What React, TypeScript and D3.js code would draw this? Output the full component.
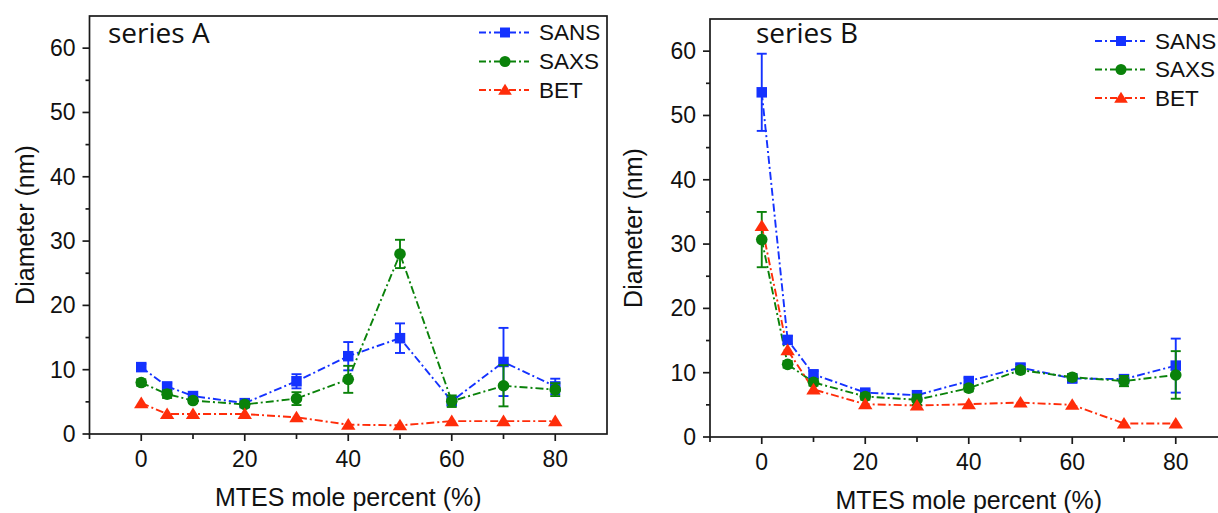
import React from 'react';
import * as d3 from 'd3';

// ---- data ----
const molePercent = [0, 5, 10, 20, 30, 40, 50, 60, 70, 80];

const sansA = [10.4, 7.4, 5.9, 4.8, 8.2, 12.1, 14.9, 5.1, 11.2, 7.4];
const sansAErr = [0.5, 0.5, 0.4, 0.3, 1.1, 2.2, 2.3, 0.6, 5.3, 1.2];
const saxsA = [8.0, 6.2, 5.2, 4.6, 5.5, 8.5, 28.0, 5.1, 7.5, 6.9];
const saxsAErr = [0.5, 0.6, 0.4, 0.4, 1.0, 2.1, 2.2, 0.9, 3.2, 1.0];
const betA = [4.8, 3.1, 3.1, 3.1, 2.6, 1.45, 1.35, 2.0, 2.0, 2.0];

const sansB = [53.6, 15.1, 9.75, 6.9, 6.5, 8.7, 10.8, 9.1, 9.0, 11.1];
const sansBErr = [6.0, 0.6, 0.5, 0.4, 0.4, 0.5, 0.5, 0.6, 0.5, 4.2];
const saxsB = [30.7, 11.3, 8.5, 6.3, 5.8, 7.6, 10.4, 9.3, 8.7, 9.65];
const saxsBErr = [4.3, 0.5, 0.5, 0.5, 0.8, 0.5, 0.5, 0.5, 0.8, 3.7];
const betB = [32.8, 13.5, 7.4, 5.1, 4.9, 5.1, 5.35, 5.0, 2.1, 2.1];

const yMajorTicks = [0, 10, 20, 30, 40, 50, 60];
const yMinorTicks = [5, 15, 25, 35, 45, 55];
const xMajorTicks = [0, 20, 40, 60, 80];
const xMinorTicks = [10, 30, 50, 70];
const seriesNames = ['SANS', 'SAXS', 'BET'];
const panelTitles = ['series A', 'series B'];
const xTitle = 'MTES mole percent (%)';
const yTitle = 'Diameter (nm)';

// ---- styles ----
const COLORS = ['#1432ff', '#0a820a', '#ff2d0a'];
const MARKERS = ['square', 'circle', 'triangle'];
const DASH = '8,3,2,3';
const FONT = "'Liberation Sans', Arial, sans-serif";
const TITLE_FONT = "'Open Sans', 'Noto Sans', sans-serif";

type Series = { values: number[]; errors?: number[] };

function Marker({ kind, x, y, color, s = 1 }: { kind: string; x: number; y: number; color: string; s?: number }) {
  if (kind === 'square') {
    const a = 10.5 * s;
    return <rect x={x - a / 2} y={y - a / 2} width={a} height={a} fill={color} />;
  }
  if (kind === 'circle') {
    return <circle cx={x} cy={y} r={5.8 * s} fill={color} />;
  }
  const w = 7.2 * s;
  const hTop = 6.6 * s;
  const hBot = 5 * s;
  return <path d={`M${x},${y - hTop}L${x + w},${y + hBot}L${x - w},${y + hBot}Z`} fill={color} />;
}

function Panel({
  left, right, top, bottom, series, title, titleX, titleY, legendX, legendRows, yTitleX,
}: {
  left: number; right: number; top: number; bottom: number; series: Series[]; title: string;
  titleX: number; titleY: number; legendX: number; legendRows: number[]; yTitleX: number;
}) {
  const x = d3.scaleLinear().domain([-10, 90]).range([left, right]);
  const y = d3.scaleLinear().domain([0, 65]).range([bottom, top]);
  const line = d3.line<number>().x((_, i) => x(molePercent[i])).y((v) => y(v));
  const cx = (left + right) / 2;
  const cy = (top + bottom) / 2;

  return (
    <g>
      {/* frame */}
      <rect x={left} y={top} width={right - left} height={bottom - top} fill="none" stroke="#1a1a1a" strokeWidth={1.7} />
      {/* y ticks */}
      {yMajorTicks.map((t) => (
        <g key={'ym' + t}>
          <line x1={left - 7} x2={left} y1={y(t)} y2={y(t)} stroke="#1a1a1a" strokeWidth={1.7} />
          <text x={left - 14} y={y(t)} textAnchor="end" dominantBaseline="central" fontFamily={FONT} fontSize={23} fill="#111">{t}</text>
        </g>
      ))}
      {yMinorTicks.map((t) => (
        <line key={'yn' + t} x1={left - 4} x2={left} y1={y(t)} y2={y(t)} stroke="#1a1a1a" strokeWidth={1.7} />
      ))}
      {/* x ticks */}
      {xMajorTicks.map((t) => (
        <g key={'xm' + t}>
          <line x1={x(t)} x2={x(t)} y1={bottom} y2={bottom + 7} stroke="#1a1a1a" strokeWidth={1.7} />
          <text x={x(t)} y={bottom + 33} textAnchor="middle" fontFamily={FONT} fontSize={23} fill="#111">{t}</text>
        </g>
      ))}
      {[-10, ...xMinorTicks].map((t) => (
        <line key={'xn' + t} x1={x(t)} x2={x(t)} y1={bottom} y2={bottom + 5} stroke="#1a1a1a" strokeWidth={1.7} />
      ))}
      {/* axis titles */}
      <text x={cx} y={bottom + 72} textAnchor="middle" fontFamily={FONT} fontSize={25} fill="#111">{xTitle}</text>
      <text x={yTitleX} y={cy} textAnchor="middle" dominantBaseline="central" fontFamily={FONT} fontSize={25} fill="#111"
        transform={`rotate(-90 ${yTitleX} ${cy})`}>{yTitle}</text>
      {/* panel title */}
      <text x={titleX} y={titleY} fontFamily={TITLE_FONT} fontSize={28} fill="#111">{title}</text>

      {/* lines */}
      {series.map((s, k) => (
        <path key={'l' + k} d={line(s.values) || ''} fill="none" stroke={COLORS[k]} strokeWidth={1.9} strokeDasharray={DASH} />
      ))}
      {/* error bars + markers */}
      {series.map((s, k) => (
        <g key={'m' + k}>
          {s.errors && s.values.map((v, i) => {
            const e = s.errors![i];
            const xx = x(molePercent[i]);
            return (
              <g key={i} stroke={COLORS[k]} strokeWidth={1.9}>
                <line x1={xx} x2={xx} y1={y(v - e)} y2={y(v + e)} />
                <line x1={xx - 5} x2={xx + 5} y1={y(v - e)} y2={y(v - e)} />
                <line x1={xx - 5} x2={xx + 5} y1={y(v + e)} y2={y(v + e)} />
              </g>
            );
          })}
          {s.values.map((v, i) => (
            <Marker key={i} kind={MARKERS[k]} x={x(molePercent[i])} y={y(v)} color={COLORS[k]} />
          ))}
        </g>
      ))}

      {/* legend */}
      {seriesNames.map((name, k) => (
        <g key={'lg' + k}>
          <line x1={legendX} x2={legendX + 50} y1={legendRows[k]} y2={legendRows[k]} stroke={COLORS[k]} strokeWidth={1.8} strokeDasharray="7,3,2,3" />
          <Marker kind={MARKERS[k]} x={legendX + 26} y={legendRows[k]} color={COLORS[k]} s={0.95} />
          <text x={legendX + 60} y={legendRows[k]} dominantBaseline="central" fontFamily={FONT} fontSize={22.5} fill="#111">{name}</text>
        </g>
      ))}
    </g>
  );
}

export default function App() {
  const seriesA: Series[] = [
    { values: sansA, errors: sansAErr },
    { values: saxsA, errors: saxsAErr },
    { values: betA },
  ];
  const seriesB: Series[] = [
    { values: sansB, errors: sansBErr },
    { values: saxsB, errors: saxsBErr },
    { values: betB },
  ];
  return (
    <svg width={1218} height={513} style={{ position: 'absolute', left: 0, top: 0, background: '#fff' }}>
      <rect width={1218} height={513} fill="#fff" />
      <Panel left={89.5} right={607} top={16} bottom={434} series={seriesA} title={panelTitles[0]}
        titleX={108} titleY={43} legendX={479} legendRows={[32.5, 61.5, 90]} yTitleX={25} />
      <Panel left={710} right={1227.5} top={19} bottom={437} series={seriesB} title={panelTitles[1]}
        titleX={756} titleY={43} legendX={1095} legendRows={[41, 69.5, 98]} yTitleX={633} />
    </svg>
  );
}
